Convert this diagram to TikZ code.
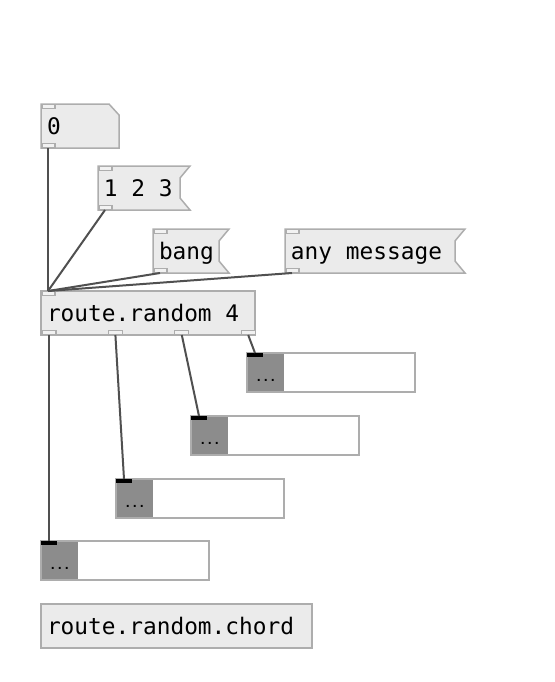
\documentclass[tikz,border=0pt]{standalone}
\usepackage{fontspec}
\newfontfamily\pdmono{DejaVu Sans Mono}
\DeclareRobustCommand\pdfont{\pdmono\fontsize{11.4}{13}\selectfont}
\newcommand\pdsp{\hphantom{0}}
\usetikzlibrary{backgrounds}
\definecolor{boxfill}{HTML}{EBEBEB}
\definecolor{boxgray}{HTML}{ADADAD}
\definecolor{wiregray}{HTML}{505050}
\definecolor{nbgray}{HTML}{8C8C8C}
\definecolor{iofill}{HTML}{F2F2F2}
\begin{document}
\begin{tikzpicture}[
        x=0.5pt, y=-0.5pt,
        box/.style={anchor=north west,inner xsep=3pt,inner ysep=0pt,outer sep=0pt,
            minimum height=22pt,text height=10pt,text depth=2pt,font=\pdfont},
        obj/.style={box,draw=boxgray,fill=boxfill,line width=0.75pt},
        outline/.style={draw=boxgray,fill=boxfill,line width=0.75pt},
        iolet/.style={draw=boxgray,fill=iofill,line width=0.6pt},
        numbox/.style={anchor=north west,outer sep=0pt,draw=boxgray,fill=white,line width=0.75pt,
            minimum width=84pt,minimum height=19.5pt,
            path picture={\fill[nbgray] (path picture bounding box.north west) rectangle ([xshift=18.5pt]path picture bounding box.south west);}},
        dots/.style={anchor=base west,inner sep=0pt,font=\pdmono\bfseries\fontsize{5.8}{6}\selectfont},
        wire/.style={draw=wiregray,line width=1pt}
        ]
        \useasboundingbox (0,0) rectangle (555,682);
        % atom and messages
        \node (m0) [box,text width=33pt] at (41,104) {0};
        \node (m123) [box,text width=40pt] at (98,166) {1\pdsp 2\pdsp 3};
        \node (mbang) [box,text width=32pt] at (153,229) {bang};
        \node (many) [box,text width=84pt] at (285,229) {any\pdsp message};
        \begin{pgfonlayer}{background}
            \draw[outline] (m0.north west) -- ([xshift=-5pt]m0.north east) -- ([yshift=-5.5pt]m0.north east)
                -- (m0.south east) -- (m0.south west) -- cycle;
            \foreach \n in {m123,mbang,many}
                \draw[outline] (\n.north west) -- (\n.north east) -- ([xshift=-5pt,yshift=-6pt]\n.north east)
                    -- ([xshift=-5pt,yshift=6pt]\n.south east) -- (\n.south east) -- (\n.south west) -- cycle;
        \end{pgfonlayer}
        % objects
        \node (rt) [obj,text width=101pt] at (41,291) {route.random\pdsp 4};
        \node (chord) [obj,text width=129.5pt] at (41,604) {route.random.chord};
        % number boxes
        \node (nb1) [numbox] at (247,353) {};
        \node (nb2) [numbox] at (191,416) {};
        \node (nb3) [numbox] at (116,479) {};
        \node (nb4) [numbox] at (41,541) {};
        \foreach \n in {nb1,nb2,nb3,nb4} {
            \fill (\n.north west) rectangle ++(8pt,-2pt);
            \node (\n-v) [dots] at ([xshift=4pt,yshift=5.5pt]\n.south west) {...};
        }
        % inlets and outlets
        \foreach \n in {m0,m123,mbang,many,rt}
            \draw[iolet] ([xshift=0.5pt,yshift=-0.4pt]\n.north west) rectangle ++(6.5pt,-1.8pt);
        \foreach \n in {m0,m123,mbang,many}
            \draw[iolet] ([xshift=0.5pt,yshift=0.4pt]\n.south west) rectangle ++(6.5pt,1.8pt);
        \foreach \i in {0,1,2,3} {
            \draw[iolet] ([xshift=0.5pt+\i*33.2pt,yshift=0.4pt]rt.south west) rectangle ++(7pt,1.8pt);
            \coordinate (ro\i) at ([xshift=4pt+\i*33.2pt]rt.south west);
        }
        % connections
        \draw[wire] ([xshift=3.5pt]m0.south west) -- ([xshift=3.5pt]rt.north west);
        \draw[wire] ([xshift=3.5pt]m123.south west) -- ([xshift=3.5pt]rt.north west);
        \draw[wire] ([xshift=3.5pt]mbang.south west) -- ([xshift=3.5pt]rt.north west);
        \draw[wire] ([xshift=3.5pt]many.south west) -- ([xshift=3.5pt]rt.north west);
        \draw[wire] (ro0) -- ([xshift=4pt]nb4.north west);
        \draw[wire] (ro1) -- ([xshift=4pt]nb3.north west);
        \draw[wire] (ro2) -- ([xshift=4pt]nb2.north west);
        \draw[wire] (ro3) -- ([xshift=4pt]nb1.north west);
\end{tikzpicture}
\end{document}
